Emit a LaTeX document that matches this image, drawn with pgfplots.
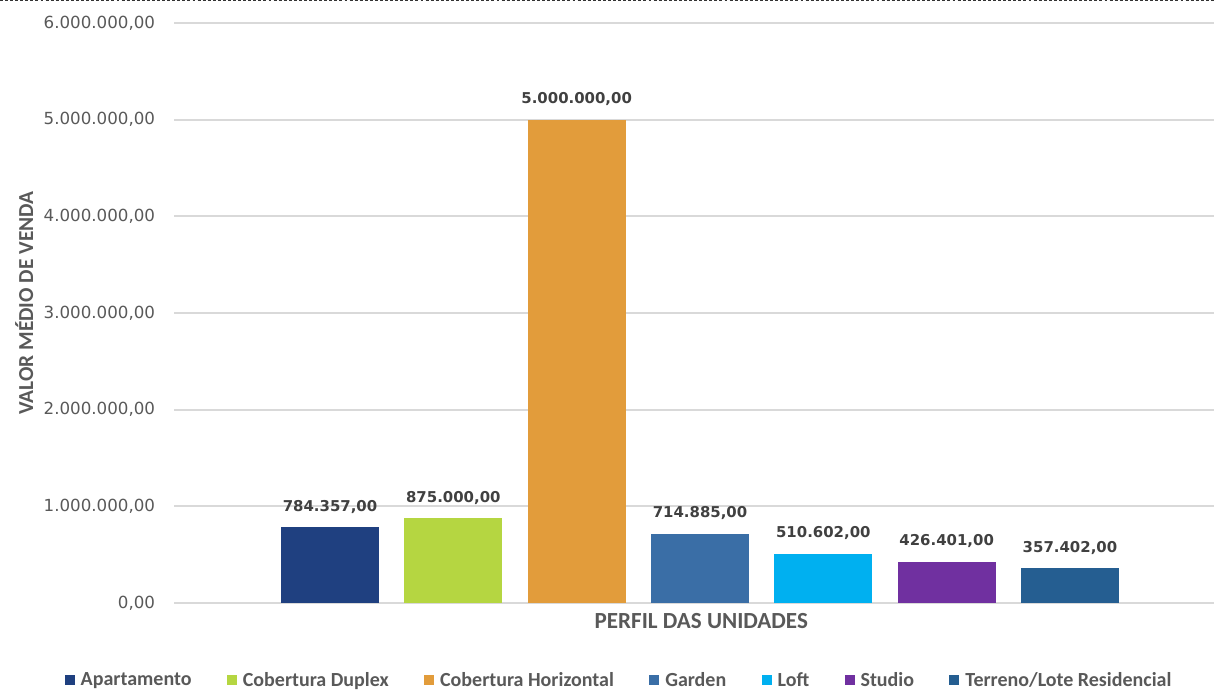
\documentclass[border=0pt]{standalone}
\usepackage{pgfplots}
\pgfplotsset{compat=1.18}
\usepackage{fontspec}
\setmainfont{Carlito}
\newfontfamily\numfont{DejaVu Sans}

\definecolor{cApto}{HTML}{1F4080}
\definecolor{cDuplex}{HTML}{B5D641}
\definecolor{cHoriz}{HTML}{E29C3B}
\definecolor{cGarden}{HTML}{3A6EA6}
\definecolor{cLoft}{HTML}{00B0F0}
\definecolor{cStudio}{HTML}{7030A0}
\definecolor{cTerreno}{HTML}{255E91}
\definecolor{txtgray}{HTML}{595959}
\definecolor{lblgray}{HTML}{404040}
\definecolor{gridgray}{HTML}{D9D9D9}

\pgfkeys{/pgf/number format/.cd, fixed, fixed zerofill, precision=2, use comma, 1000 sep={.}, assume math mode=true}

\begin{document}
\begin{tikzpicture}
\useasboundingbox (0,0) rectangle (910.5pt,518.25pt);
\draw[line width=1pt, dash pattern=on 2.2pt off 1.6pt, black!80] (0,517.8pt) -- (910.5pt,517.8pt);
\begin{axis}[
    at={(130.5pt,66pt)}, anchor=south west,
    scale only axis, width=780pt, height=435pt,
    ybar, bar width=0.795,
    xmin=-1.265, xmax=7.168,
    ymin=0, ymax=6000000,
    ytick={0,1000000,2000000,3000000,4000000,5000000,6000000},
    xtick=\empty,
    scaled y ticks=false,
    yticklabel={\pgfmathprintnumber[assume math mode=true]{\tick}},
    axis line style={draw=none},
    major tick length=0pt,
    ymajorgrids, grid style={gridgray, line width=1.3pt},
    yticklabel style={font=\numfont\fontsize{12.5}{14}\selectfont, text=txtgray, inner sep=0pt, xshift=-14pt},
    nodes near coords={\pgfmathprintnumber[assume math mode=true]{\pgfplotspointmeta}},
    every node near coord/.append style={font=\numfont\bfseries\fontsize{11.2}{14}\selectfont, text=lblgray, anchor=base, inner sep=0pt, yshift=12pt},
    xlabel={PERFIL DAS UNIDADES},
    xlabel style={at={(axis description cs:0.507,0)}, anchor=north, inner sep=0pt, yshift=-7.5pt, font=\bfseries\fontsize{17.3}{19}\selectfont, text=txtgray},
    ylabel={VALOR MÉDIO DE VENDA},
    ylabel style={at={(axis description cs:-0.144,0.517)}, anchor=center, inner sep=0pt, font=\bfseries\fontsize{16}{18}\selectfont, text=txtgray},
    legend columns=-1,
    legend style={at={(axis description cs:0.428,-0.133)}, anchor=center, draw=none, fill=none,
        font=\bfseries\fontsize{15}{17}\selectfont, text=txtgray,
        nodes={inner sep=1.5pt},
        /tikz/every even column/.append style={column sep=25pt}},
    legend image code/.code={\fill[#1] (0pt,-3.75pt) rectangle (7.5pt,3.75pt);},
]
\addplot[fill=cApto, draw=none, bar shift=0pt] coordinates {(0,784357)};
\addlegendentry{\hspace{3pt}Apartamento}
\addplot[fill=cDuplex, draw=none, bar shift=0pt] coordinates {(1,875000)};
\addlegendentry{\hspace{3pt}Cobertura Duplex}
\addplot[fill=cHoriz, draw=none, bar shift=0pt] coordinates {(2,5000000)};
\addlegendentry{\hspace{3pt}Cobertura Horizontal}
\addplot[fill=cGarden, draw=none, bar shift=0pt] coordinates {(3,714885)};
\addlegendentry{\hspace{3pt}Garden}
\addplot[fill=cLoft, draw=none, bar shift=0pt] coordinates {(4,510602)};
\addlegendentry{\hspace{3pt}Loft}
\addplot[fill=cStudio, draw=none, bar shift=0pt] coordinates {(5,426401)};
\addlegendentry{\hspace{3pt}Studio}
\addplot[fill=cTerreno, draw=none, bar shift=0pt] coordinates {(6,357402)};
\addlegendentry{\hspace{3pt}Terreno/Lote Residencial}
\end{axis}
\end{tikzpicture}
\end{document}
